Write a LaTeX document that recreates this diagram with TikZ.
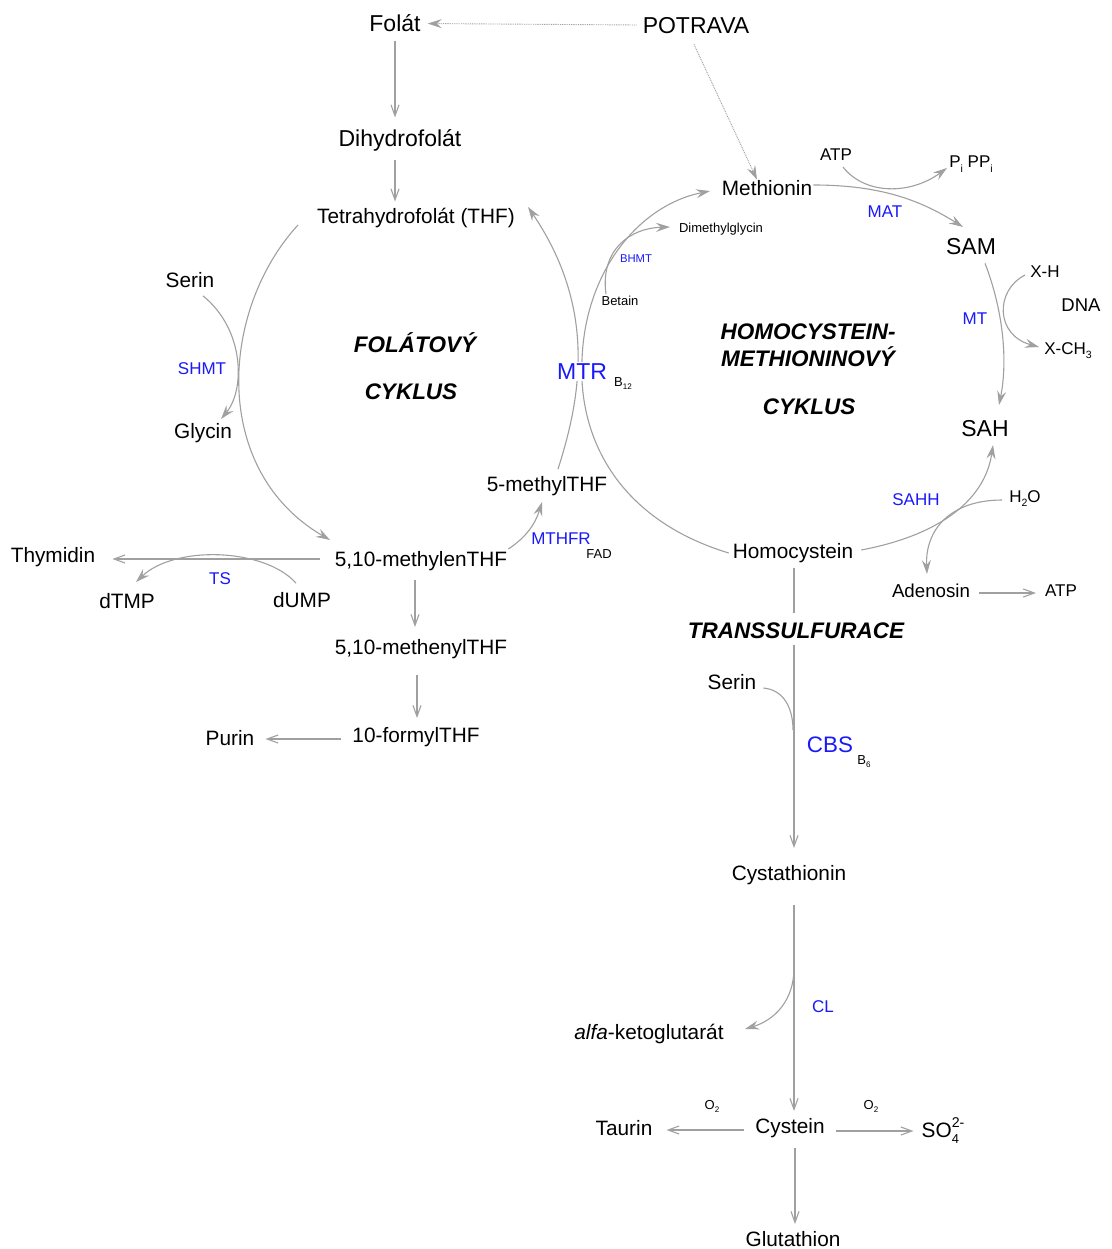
\documentclass[tikz,border=0pt]{standalone}
\usepackage{fontspec}
\setmainfont{Liberation Sans}
\usetikzlibrary{arrows.meta}
\definecolor{lg}{RGB}{160,160,160}
\definecolor{enz}{RGB}{25,25,250}
\newcommand\lsub[1]{\raisebox{-0.28em}{\scalebox{0.62}{#1}}}
\newcommand\lsup[1]{\raisebox{0.45em}{\scalebox{0.68}{#1}}}
\begin{document}
\begin{tikzpicture}[x=1pt,y=-1pt,
  every node/.style={inner sep=1pt, text=black, yshift=-1.5pt},
  lab/.style={font=\fontsize{20.8}{24}\selectfont},
  big/.style={font=\fontsize{23}{27}\selectfont},
  mid/.style={font=\fontsize{17}{20}\selectfont},
  sml/.style={font=\fontsize{13}{15}\selectfont},
  enzl/.style={font=\fontsize{17}{20}\selectfont, text=enz},
  ttl/.style={font=\fontsize{22.5}{26}\selectfont\bfseries\itshape},
  con/.style={draw=lg, line width=1.1pt},
  sarr/.style={con, -{Straight Barb[length=11pt,width=8pt,line width=1.1pt]}},
  carr/.style={con, -{Stealth[length=14pt,width=9pt,inset=5pt]}},
  dotarr/.style={draw=lg, line width=0.9pt, dash pattern=on 0.9pt off 0.9pt, -{Stealth[length=14pt,width=9pt,inset=5pt]}}
]
\useasboundingbox[fill=white] (0,0) rectangle (1111,1249);

% ---------- nodes ----------
\node[big] (folat) at (395,22) {Folát};
\node[big] (potrava) at (696,24) {POTRAVA};
\node[big] (dhf) at (400,139) {Dihydrofolát};
\node[lab] (thf) at (416,217) {Tetrahydrofolát (THF)};
\node[lab] (serin1) at (190,279) {Serin};
\node[lab] (glycin) at (203,432) {Glycin};
\node[enzl] (shmt) at (202,367) {SHMT};
\node[ttl] (fol1) at (415,341) {FOLÁTOVÝ};
\node[ttl] (fol2) at (411,390) {CYKLUS};
\node[lab] (mthf) at (421,560) {5,10-methylenTHF};
\node[lab] (thymidin) at (53,556) {Thymidin};
\node[lab] (dtmp) at (127,600) {dTMP};
\node[lab] (dump) at (302,599) {dUMP};
\node[enzl] (ts) at (220,577) {TS};
\node[lab] (menyl) at (421,648) {5,10-methenylTHF};
\node[lab] (formyl) at (416,736) {10-formylTHF};
\node[lab] (purin) at (230,737) {Purin};
\node[lab] (methylthf) at (547,485) {5-methylTHF};
\node[enzl] (mthfr) at (561,537) {MTHFR};
\node[sml] (fad) at (599,553) {FAD};
\node[sml] (dmg) at (721,228) {Dimethylglycin};
\node[sml] (betain) at (620,299) {Betain};
\node[font=\fontsize{11.3}{13}\selectfont, text=enz] (bhmt) at (636,257) {BHMT};
\node[lab] (met) at (767,187) {Methionin};
\node[mid] (atp1) at (836,153) {ATP};
\node[mid] (pi) at (971,163) {P\lsub{i} PP\lsub{i}};
\node[enzl] (mat) at (885,210) {MAT};
\node[big] (sam) at (971,245) {SAM};
\node[mid] (xh) at (1045,270) {X-H};
\node[mid, font=\fontsize{18.5}{21}\selectfont] (dna) at (1081,304) {DNA};
\node[enzl] (mt) at (975,317) {MT};
\node[mid] (xch3) at (1068,349) {X-CH\lsub{3}};
\node[big] (sah) at (985,427) {SAH};
\node[ttl] (hm1) at (808,330) {HOMOCYSTEIN-};
\node[ttl] (hm2) at (808,355) {METHIONINOVÝ};
\node[ttl] (hm3) at (809,405) {CYKLUS};
\node[enzl] (sahh) at (916,498) {SAHH};
\node[mid] (h2o) at (1025,497) {H\lsub{2}O};
\node[lab] (homocys) at (793,552) {Homocystein};
\node[font=\fontsize{18.7}{22}\selectfont] (adenosin) at (931,589) {Adenosin};
\node[mid] (atp2) at (1061,589) {ATP};
\node[lab] (serin2) at (732,681) {Serin};
\node[font=\fontsize{22.4}{26}\selectfont, text=enz] (cbs) at (830,743) {CBS};
\node[sml] (b6) at (864,760) {B\lsub{6}};
\node[lab] (cysta) at (789,874) {Cystathionin};
\node[enzl] (cl) at (823,1005) {CL};
\node[lab] (akg) at (649,1032) {\textit{alfa}-ketoglutarát};
\node[lab] (cys) at (790,1127) {Cystein};
\node[lab] (taurin) at (624,1127) {Taurin};
\node[sml] (o2a) at (712,1105) {O\lsub{2}};
\node[sml] (o2b) at (871,1105) {O\lsub{2}};
\node[lab] (so4) at (943,1129) {SO\rlap{\lsub{4}}\lsup{2-}};
\node[lab] (glut) at (793,1238) {Glutathion};

% ---------- connectors ----------
\draw[dotarr, shorten >=6pt] (potrava.west) ++(-5,-2) coordinate (pw) (pw) -- (folat.east);
\draw[dotarr] (potrava.south) ++(-2,8) coordinate (ps) (ps) -- (met.north -| 757,0);

\draw[sarr, shorten <=8pt, shorten >=11pt] (folat.south) -- (folat.south |- dhf.north);
\draw[sarr, shorten <=7pt, shorten >=6pt] (dhf.south -| folat.south) -- (folat.south |- thf.north);

% big folate arc: THF -> 5,10-methylenTHF
\draw[carr] (thf.west) ++(-18,5) coordinate (thfw)
  (thfw) .. controls (220,310) and (210,470) .. (330,540);
% SHMT
\draw[carr] (serin1.south) ++(13,5) coordinate (s1s)
  (s1s) .. controls (245,330) and (245,390) .. (221,419);
% Thymidin
\draw[sarr, shorten >=16pt] (mthf.west) ++(-14,-4) coordinate (mw) (mw) -- (thymidin.east |- mw);
% TS
\draw[carr] (dump.north) ++(-6,-10) coordinate (dn)
  (dn) .. controls (265,548) and (175,545) .. (136,582);
% vertical folate chain
\draw[sarr] (415,580) -- (415,627);
\draw[sarr] (417,675) -- (417,718);
\draw[sarr, shorten >=10pt] (formyl.west) ++(-10,0) coordinate (fw) (fw) -- (purin.east |- fw);
% MTHFR
\draw[carr] (mthf.east) ++(0,-14) coordinate (me)
  (me) .. controls (525,538) and (535,525) .. (542,502);
% MTR arc: 5-methylTHF -> THF
\draw[carr] (methylthf.north) ++(11,-8) coordinate (mtn)
  (mtn) .. controls (580,400) and (598,310) .. (528,207);
% Homocystein -> Methionin (via MTR)
\draw[carr] (homocys.west) ++(-3,-2) coordinate (hw)
  (hw) .. controls (620,520) and (578,440) .. (582,360)
  .. controls (585,270) and (640,205) .. (710,191);
% BHMT
\draw[carr] (betain.north) ++(-14,-2) coordinate (bn)
  (bn) .. controls (600,250) and (630,228) .. (670,227);
% MAT
\draw[carr] (met.east) ++(0,-5) coordinate (mete)
  (mete) .. controls (880,185) and (920,200) .. (963,227);
\draw[carr] (atp1.south) ++(7,4) coordinate (atps)
  (atps) .. controls (865,195) and (910,195) .. (947,168);
% MT
\draw[carr] (sam.south) ++(14,6) coordinate (sams)
  (sams) .. controls (1003,310) and (1008,360) .. (999,405);
\draw[carr] (xh.west) ++(-4,2) coordinate (xhw)
  (xhw) .. controls (995,290) and (995,335) .. (1039,347);
% SAHH
\draw[carr] (homocys.east) ++(7,-5) coordinate (he)
  (he) .. controls (940,535) and (985,500) .. (993,445);
\draw[carr] (h2o.west) ++(-6,0) coordinate (hw2)
  (hw2) .. controls (950,500) and (925,530) .. (927,574);
\draw[sarr, shorten >=8pt] (adenosin.east) ++(8,1) coordinate (ae) (ae) -- (atp2.west |- ae);
% transsulfuration
\draw[con] (794,568) -- (794,613);
\draw[sarr] (794,645) -- (794,848);
\draw[con] (serin2.east) ++(6,4) coordinate (se)
  (se) .. controls (785,690) and (793,710) .. (793,730);
\draw[sarr] (794,905) -- (794,1111);
\draw[carr] (794,968) .. controls (794,1000) and (775,1020) .. (745,1029);
\draw[sarr, shorten >=13pt] (cys.west) ++(-10,0) coordinate (cw) (cw) -- (taurin.east |- cw);
\draw[sarr, shorten >=7pt] (cys.east) ++(10,1) coordinate (ce) (ce) -- (so4.west |- ce);
\draw[sarr] (795,1148) -- (795,1224);

% labels over lines
\node[font=\fontsize{23}{27}\selectfont, text=enz, fill=white, inner sep=2pt] (mtr) at (582,370) {MTR};
\node[sml] (b12) at (623,382) {B\lsub{12}};
\node[ttl, fill=white, inner ysep=6pt] (trans) at (796,629) {TRANSSULFURACE};
\end{tikzpicture}
\end{document}
